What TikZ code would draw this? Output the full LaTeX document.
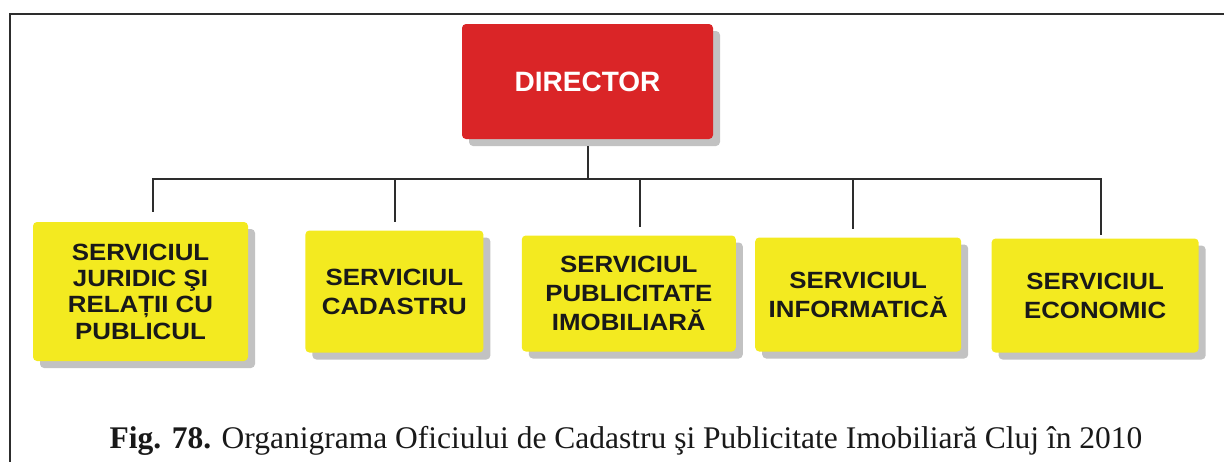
\documentclass[tikz,border=0pt]{standalone}
\usepackage{fontspec}
\setmainfont{Liberation Serif}
\setsansfont{Liberation Sans}
\newfontfamily\boxfont{Liberation Sans}[FakeStretch=1.1]
\usepackage{tikz}
\usetikzlibrary{positioning,calc,shadows}
\definecolor{dirred}{RGB}{218,37,39}
\definecolor{boxyellow}{RGB}{243,234,32}
\definecolor{linegray}{RGB}{45,45,45}
\definecolor{textdark}{RGB}{25,25,25}

\begin{document}
\begin{tikzpicture}[
    x=1pt, y=-1pt,
    every node/.style={font=\sffamily\bfseries},
    dirbox/.style={rectangle, fill=dirred, rounded corners=4pt, align=center, text=white, minimum width=251pt, minimum height=115pt, font=\sffamily\bfseries\fontsize{28}{30}\selectfont, drop shadow={shadow xshift=7pt, shadow yshift=-7pt, fill=black!60, opacity=0.4}},
    servbox/.style={rectangle, fill=boxyellow, rounded corners=4pt, align=center, text=textdark, inner sep=0pt, font=\boxfont\bfseries\fontsize{23.5}{29}\selectfont, drop shadow={shadow xshift=7pt, shadow yshift=-7pt, fill=black!60, opacity=0.4}},
    link/.style={draw=linegray, line width=2pt}
]
    \clip (0,0) rectangle (1224,461);
    \draw[linegray, line width=2.2pt] (10,480) -- (10,14) -- (1240,14);

    \node (dir) [dirbox] at (587.5,81.5) {DIRECTOR};
    \node (jur) [servbox, minimum width=215pt, minimum height=139pt, font=\boxfont\bfseries\fontsize{23.5}{26.3}\selectfont] at (140.5,291.5) {SERVICIUL\\JURIDIC ŞI\\RELAȚII CU\\PUBLICUL};
    \node (cad) [servbox, minimum width=178pt, minimum height=122pt, right=57pt of jur] {SERVICIUL\\CADASTRU};
    \node (pub) [servbox, minimum width=214pt, minimum height=116pt, right=38pt of cad, yshift=-2pt] {SERVICIUL\\PUBLICITATE\\IMOBILIARĂ};
    \node (inf) [servbox, minimum width=206pt, minimum height=114pt, right=19pt of pub, yshift=-1pt] {SERVICIUL\\INFORMATICĂ};
    \node (eco) [servbox, minimum width=207pt, minimum height=114pt, right=30pt of inf, yshift=-1pt] {SERVICIUL\\ECONOMIC};

    \coordinate (bus) at ($(dir.south)+(0,39.5)$);
    \draw[link] ([yshift=-7pt]dir.south) -- (bus);
    \draw[link] (bus) -| ([xshift=12.5pt,yshift=10pt]jur.north);
    \draw[link] (bus) -| ([xshift=1pt,yshift=8pt]cad.north);
    \draw[link] (bus) -| ([xshift=11pt,yshift=8pt]pub.north);
    \draw[link] (bus) -| ([xshift=-5pt,yshift=8pt]inf.north);
    \draw[link] (bus) -| ([xshift=5.5pt,yshift=3pt]eco.north);

    \node (cap) [font=\rmfamily\fontsize{31.5}{36}\selectfont, text=textdark, anchor=base] at (626,448) {\textbf{Fig. 78.} Organigrama Oficiului de Cadastru şi Publicitate Imobiliară Cluj în 2010};
\end{tikzpicture}
\end{document}
